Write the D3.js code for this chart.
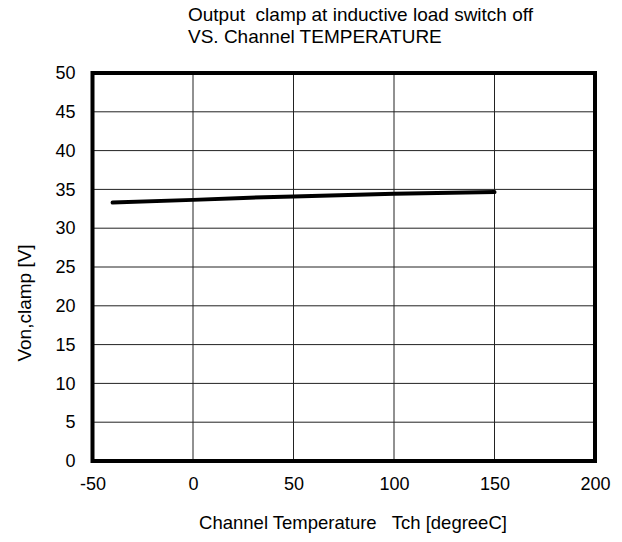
<!DOCTYPE html>
<html><head><meta charset="utf-8">
<script src="https://cdn.jsdelivr.net/npm/d3@7"></script>
<style>body{margin:0;background:#fff}svg{display:block}text{font-family:"Liberation Sans",Arial,sans-serif;fill:#000}</style>
</head><body>
<svg id="c" width="622" height="542"></svg>
<script>
const temps = [-40, 0, 25, 50, 100, 150];
const vclamp = [33.3, 33.65, 33.9, 34.1, 34.45, 34.65];
const xTicks = [-50, 0, 50, 100, 150, 200];
const yTicks = [0, 5, 10, 15, 20, 25, 30, 35, 40, 45, 50];
const titleLines = ["Output  clamp at inductive load switch off", "VS. Channel TEMPERATURE"];
const xTitle = "Channel Temperature   Tch [degreeC]";
const yTitle = "Von,clamp [V]";

const svg = d3.select("#c");
const L = 92.5, R = 595, T = 73, B = 461;
const x = d3.scaleLinear().domain([-50, 200]).range([L, R]);
const y = d3.scaleLinear().domain([0, 50]).range([B, T]);

svg.append("g").selectAll("line").data(xTicks).join("line")
  .attr("x1", d => x(d)).attr("x2", d => x(d)).attr("y1", T).attr("y2", B)
  .attr("stroke", "#222").attr("stroke-width", 1);
svg.append("g").selectAll("line").data(yTicks).join("line")
  .attr("y1", d => y(d)).attr("y2", d => y(d)).attr("x1", L).attr("x2", R)
  .attr("stroke", "#222").attr("stroke-width", 1);

svg.append("rect").attr("x", L).attr("y", T).attr("width", R - L).attr("height", B - T)
  .attr("fill", "none").attr("stroke", "#000").attr("stroke-width", 4);

const fmt = d => String(d);
const xAxis = svg.append("g").attr("transform", `translate(0,${B})`)
  .call(d3.axisBottom(x).tickValues(xTicks).tickSize(0).tickPadding(16).tickFormat(fmt));
xAxis.select(".domain").remove();
xAxis.selectAll("text").style("font-size", "18px").attr("fill", "#000");

const yAxis = svg.append("g").attr("transform", `translate(${L},0)`)
  .call(d3.axisLeft(y).tickValues(yTicks).tickSize(0).tickPadding(17).tickFormat(fmt));
yAxis.select(".domain").remove();
yAxis.selectAll("text").style("font-size", "18px").attr("fill", "#000");

const data = temps.map((t, i) => [t, vclamp[i]]);
svg.append("path").datum(data)
  .attr("d", d3.line().x(d => x(d[0])).y(d => y(d[1])))
  .attr("fill", "none").attr("stroke", "#000").attr("stroke-width", 4).attr("stroke-linecap", "round");

svg.append("g").selectAll("text").data(titleLines).join("text")
  .attr("x", 188).attr("y", (d, i) => 21 + i * 22)
  .style("font-size", "19px").style("white-space", "pre").text(d => d);

svg.append("text").attr("x", 353).attr("y", 529).attr("text-anchor", "middle")
  .style("font-size", "18.5px").style("white-space", "pre").text(xTitle);

svg.append("text").attr("transform", "translate(31,303) rotate(-90)").attr("text-anchor", "middle")
  .style("font-size", "19px").text(yTitle);
</script>
</body></html>
